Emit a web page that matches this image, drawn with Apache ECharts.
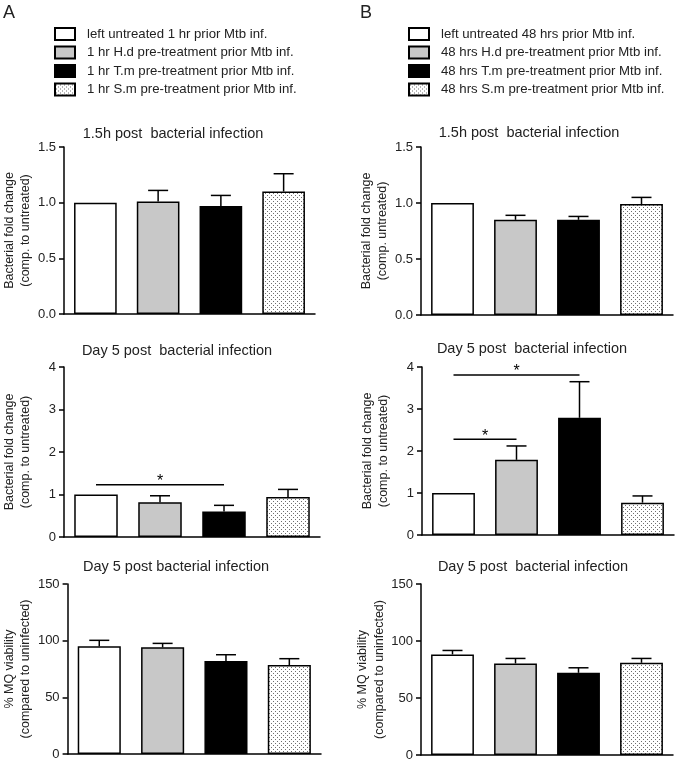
<!DOCTYPE html>
<html>
<head>
<meta charset="utf-8">
<script src="https://cdn.jsdelivr.net/npm/echarts@6/dist/echarts.min.js"></script>
<style>
  html, body { margin: 0; padding: 0; background: #fff; }
  #main { width: 680px; height: 762px; }
</style>
</head>
<body>
<div id="main"></div>
<script>
// legend / category names
var catsA = ['left untreated 1 hr prior Mtb inf.', '1 hr H.d pre-treatment prior Mtb inf.',
             '1 hr T.m pre-treatment prior Mtb inf.', '1 hr S.m pre-treatment prior Mtb inf.'];
var catsB = ['left untreated 48 hrs prior Mtb inf.', '48 hrs H.d pre-treatment prior Mtb inf.',
             '48 hrs T.m pre-treatment prior Mtb inf.', '48 hrs S.m pre-treatment prior Mtb inf.'];

// means and upper SEM
var aEarly = [1.00, 1.01, 0.97, 1.10];
var aEarlyErr = [0, 0.10, 0.095, 0.16];
var aDay5 = [1.00, 0.82, 0.60, 0.94];
var aDay5Err = [0, 0.15, 0.145, 0.18];
var aViab = [95.0, 94.1, 82.1, 78.5];
var aViabErr = [5.3, 3.5, 5.5, 5.6];

var bEarly = [1.00, 0.85, 0.85, 0.99];
var bEarlyErr = [0, 0.04, 0.03, 0.06];
var bDay5 = [1.00, 1.79, 2.79, 0.77];
var bDay5Err = [0, 0.33, 0.86, 0.16];
var bViab = [88.2, 80.3, 72.1, 80.9];
var bViabErr = [3.5, 4.4, 4.4, 3.8];

// significance brackets: [from cat, to cat, y]
var sigA = [[0, 2, 1.23]];
var sigB = [[0, 2, 3.81], [0, 1, 2.28]];

// y axis ticks [min, max, step]
var earlyTicks = [0, 1.5, 0.5];
var day5Ticks = [0, 4, 1];
var viabTicks = [0, 150, 50];

var FONT = "'Liberation Sans', Arial, sans-serif";

// dotted fill for the S.m bars
var dotCanvas = document.createElement('canvas');
dotCanvas.width = 4;
dotCanvas.height = 4;
var dctx = dotCanvas.getContext('2d');
dctx.fillStyle = '#fff';
dctx.fillRect(0, 0, 4, 4);
dctx.fillStyle = '#6e6e6e';
dctx.fillRect(1, 1, 1, 1);
dctx.fillRect(3, 3, 1, 1);
var fills = ['#ffffff', '#c8c8c8', '#000000', { image: dotCanvas, repeat: 'repeat' }];

var grids = [], xAxes = [], yAxes = [], series = [], graphics = [];

function addPanel(rect, names, vals, errs, ticks, yName, title, titlePos, sig, decimals) {
    var gi = grids.length;
    grids.push({ left: rect[0], top: rect[1], width: rect[2], height: rect[3] });
    xAxes.push({
        type: 'category', gridIndex: gi, data: [0, 1, 2, 3],
        axisLine: { lineStyle: { color: '#000', width: 1.5 } },
        axisTick: { show: false }, axisLabel: { show: false }, splitLine: { show: false }
    });
    yAxes.push({
        type: 'value', gridIndex: gi, min: ticks[0], max: ticks[1], interval: ticks[2],
        axisLine: { show: true, lineStyle: { color: '#000', width: 1.5 } },
        axisTick: { show: true, length: 5, lineStyle: { color: '#000', width: 1.5 } },
        axisLabel: {
            color: '#222', fontSize: 13, fontFamily: FONT, margin: 8,
            formatter: function (v) { return v.toFixed(decimals); }
        },
        splitLine: { show: false },
        name: yName, nameLocation: 'middle', nameRotate: 90, nameGap: 30,
        nameTextStyle: { color: '#222', fontSize: 12.5, fontFamily: FONT, lineHeight: 16.5 }
    });
    names.forEach(function (nm, i) {
        var d = vals.map(function (v, j) { return j === i ? v : '-'; });
        series.push({
            type: 'bar', name: nm, xAxisIndex: gi, yAxisIndex: gi, data: d,
            barWidth: '68%', barGap: '-100%',
            itemStyle: { color: fills[i], borderColor: '#000', borderWidth: 1.5 },
            emphasis: { disabled: true }, silent: true
        });
    });
    // upper error bars
    series.push({
        type: 'custom', xAxisIndex: gi, yAxisIndex: gi, silent: true,
        data: vals.map(function (v, i) { return [i, v, errs[i]]; }),
        renderItem: function (params, api) {
            var e = api.value(2);
            if (!e) return null;
            var p0 = api.coord([api.value(0), api.value(1)]);
            var p1 = api.coord([api.value(0), api.value(1) + e]);
            var st = { stroke: '#000', lineWidth: 1.5 };
            return { type: 'group', children: [
                { type: 'line', shape: { x1: p0[0], y1: p0[1], x2: p1[0], y2: p1[1] }, style: st },
                { type: 'line', shape: { x1: p1[0] - 10, y1: p1[1], x2: p1[0] + 10, y2: p1[1] }, style: st }
            ] };
        },
        z: 3
    });
    if (sig) {
        series.push({
            type: 'custom', xAxisIndex: gi, yAxisIndex: gi, silent: true,
            data: sig.map(function (s) { return [s[0], s[2]]; }),
            renderItem: function (params, api) {
                var s = sig[params.dataIndex];
                var a = api.coord([s[0], s[2]]);
                var b = api.coord([s[1], s[2]]);
                return { type: 'group', children: [
                    { type: 'line', shape: { x1: a[0], y1: a[1], x2: b[0], y2: b[1] },
                      style: { stroke: '#000', lineWidth: 1.3 } },
                    { type: 'text', x: (a[0] + b[0]) / 2, y: a[1] + 5,
                      style: { text: '*', fontSize: 16, fontFamily: FONT, fill: '#000',
                               textAlign: 'center', textVerticalAlign: 'bottom' } }
                ] };
            }
        });
    }
    graphics.push({
        type: 'text', x: titlePos[0], y: titlePos[1],
        style: { text: title, fontSize: 14.5, fontFamily: FONT, fill: '#222',
                 textAlign: 'center', textVerticalAlign: 'middle' }
    });
}

addPanel([63, 147, 252, 167], catsA, aEarly, aEarlyErr, earlyTicks,
    'Bacterial fold change\n(comp. to untreated)', '1.5h post  bacterial infection', [173, 134], null, 1);
addPanel([64, 367, 256, 170], catsA, aDay5, aDay5Err, day5Ticks,
    'Bacterial fold change\n(comp. to untreated)', 'Day 5 post  bacterial infection', [177, 351], sigA, 0);
addPanel([66, 584, 255, 170], catsA, aViab, aViabErr, viabTicks,
    '% MQ viability\n(compared to uninfected)', 'Day 5 post bacterial infection', [176, 567], null, 0);

addPanel([421, 147, 252, 168], catsB, bEarly, bEarlyErr, earlyTicks,
    'Bacterial fold change\n(comp. untreated)', '1.5h post  bacterial infection', [529, 133], null, 1);
addPanel([422, 367, 252, 168], catsB, bDay5, bDay5Err, day5Ticks,
    'Bacterial fold change\n(comp. to untreated)', 'Day 5 post  bacterial infection', [532, 349], sigB, 0);
addPanel([421, 584, 252, 171], catsB, bViab, bViabErr, viabTicks,
    '% MQ viability\n(compared to uninfected)', 'Day 5 post  bacterial infection', [533, 567], null, 0);

graphics.push({ type: 'text', x: 3, y: 4, style: { text: 'A', fontSize: 18, fontFamily: FONT, fill: '#222' } });
graphics.push({ type: 'text', x: 360, y: 4, style: { text: 'B', fontSize: 18, fontFamily: FONT, fill: '#222' } });

function legendFor(names, left) {
    return {
        data: names, orient: 'vertical', left: left, top: 22,
        icon: 'rect', itemWidth: 20, itemHeight: 12, itemGap: 4.5,
        selectedMode: false,
        textStyle: { color: '#222', fontSize: 13.2, lineHeight: 14, fontFamily: FONT, padding: [0, 0, 0, 7] }
    };
}

var chart = echarts.init(document.getElementById('main'), null, { renderer: 'canvas' });
chart.setOption({
    animation: false,
    backgroundColor: '#fff',
    legend: [legendFor(catsA, 49), legendFor(catsB, 403)],
    grid: grids,
    xAxis: xAxes,
    yAxis: yAxes,
    series: series,
    graphic: graphics
});
</script>
</body>
</html>
